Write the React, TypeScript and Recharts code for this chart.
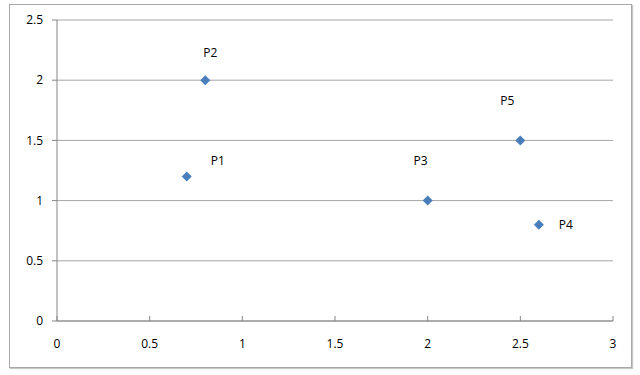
import React from "react";
import {
  ScatterChart,
  Scatter,
  XAxis,
  YAxis,
  CartesianGrid,
} from "recharts";

const names = ["P1", "P2", "P3", "P4", "P5"];
const xValues = [0.7, 0.8, 2, 2.6, 2.5];
const yValues = [1.2, 2, 1, 0.8, 1.5];
const xTicks = [0, 0.5, 1, 1.5, 2, 2.5, 3];
const yTicks = [0, 0.5, 1, 1.5, 2, 2.5];

// label offsets relative to the marker (pixels), placed by hand like the original
const labelOffsets: [number, number][] = [
  [31, -16],
  [5, -28],
  [-7, -40],
  [27, 0],
  [-13, -40],
];

const data = names.map((name, i) => ({ name, x: xValues[i], y: yValues[i], i }));

const FONT = "'Open Sans', 'Noto Sans', sans-serif";
const MARKER = "#4a7ebb";

// eslint-disable-next-line @typescript-eslint/no-explicit-any
const Point = (props: any) => {
  const { cx, cy, payload } = props;
  const [dx, dy] = labelOffsets[payload.i];
  const r = 5;
  return (
    <g>
      <polygon
        points={`${cx},${cy - r} ${cx + r},${cy} ${cx},${cy + r} ${cx - r},${cy}`}
        fill={MARKER}
      />
      <text
        x={cx + dx}
        y={cy + dy}
        textAnchor="middle"
        dominantBaseline="central"
        fontFamily={FONT}
        fontSize={12}
        fill="#000"
      >
        {payload.name}
      </text>
    </g>
  );
};

// eslint-disable-next-line @typescript-eslint/no-explicit-any
const XTick = (props: any) => {
  const { x, y, payload } = props;
  return (
    <g>
      <line x1={x} y1={y} x2={x} y2={y - 5} stroke="#868686" />
      <text
        x={x}
        y={y + 22}
        textAnchor="middle"
        dominantBaseline="central"
        fontFamily={FONT}
        fontSize={12}
        fill="#000"
      >
        {payload.value}
      </text>
    </g>
  );
};

export default function App() {
  return (
    <div style={{ position: "absolute", left: 0, top: 0, width: 640, height: 375 }}>
      <div
        style={{
          position: "absolute",
          left: 9,
          top: 4,
          width: 621,
          height: 362,
          border: "1px solid #a8a8a8",
          boxShadow: "1px 1px 1px #c8c8c8",
        }}
      />
      <div style={{ position: "absolute", left: 0, top: 0 }}>
        <ScatterChart
          width={640}
          height={375}
          margin={{ top: 20, right: 27, bottom: 24, left: 17 }}
        >
          <CartesianGrid vertical={false} stroke="#a6a6a6" />
          <XAxis
            type="number"
            dataKey="x"
            domain={[0, 3]}
            ticks={xTicks}
            interval={0}
            height={30}
            tickLine={false}
            tickSize={0}
            tickMargin={0}
            stroke="#868686"
            tick={<XTick />}
          />
          <YAxis
            type="number"
            dataKey="y"
            domain={[0, 2.5]}
            ticks={yTicks}
            interval={0}
            width={40}
            tickSize={5}
            tickMargin={9}
            stroke="#868686"
            tick={{ fill: "#000", fontSize: 12, fontFamily: FONT }}
          />
          <Scatter data={data} shape={<Point />} isAnimationActive={false} />
        </ScatterChart>
      </div>
    </div>
  );
}
